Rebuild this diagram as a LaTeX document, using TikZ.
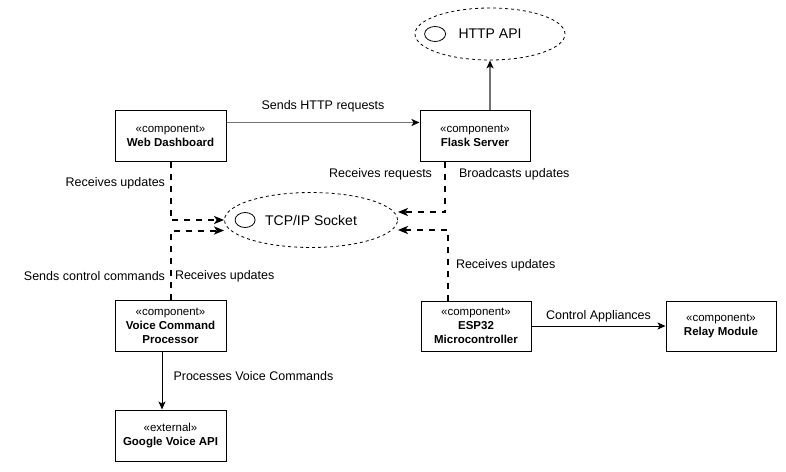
\documentclass[tikz,border=0pt]{standalone}
\usepackage{fontspec}
\setmainfont{Liberation Sans}
\usetikzlibrary{arrows.meta,shapes.geometric}

\tikzset{
  compbox/.style={draw, line width=1pt, minimum width=111, minimum height=51, inner sep=0, align=center, font=\fontsize{11.5}{14}\selectfont},
  iface/.style={draw, ellipse, dash pattern=on 3pt off 3pt, line width=0.8pt, inner sep=0, font=\fontsize{14}{16}\selectfont},
  lbl/.style={inner sep=0, text=black, font=\fontsize{12.5}{14}\selectfont},
  link/.style={line width=1pt, -{Stealth[length=8pt,width=7pt,inset=2pt,black]}},
  greylink/.style={link, black!55, line width=1.5pt},
  socklink/.style={line width=2pt, dash pattern=on 6pt off 6pt, -{Stealth[length=10pt,width=8pt,inset=2.5pt]}}
}

\begin{document}
\begin{tikzpicture}[x=1pt, y=-1pt]
			%%%%% START %%%%%
			\useasboundingbox (0,0) rectangle (786,471);
			
			\node[compbox] (web) at (170.5,135.5) {«component»\\\textbf{Web Dashboard}};
			\node[compbox, minimum width=110] (flask) at (475,135.5) {«component»\\\textbf{Flask Server}};
			\node[compbox] (voice) at (170.5,325.5) {«component»\\\textbf{Voice Command}\\\textbf{Processor}};
			\node[compbox] (google) at (170.5,435.5) {«external»\\\textbf{Google Voice API}};
			\node[compbox, minimum width=110, minimum height=50] (esp) at (476,326) {«component»\\\textbf{ESP32}\\\textbf{Microcontroller}};
			\node[compbox, minimum width=110, minimum height=50] (relay) at (721,326) {«component»\\\textbf{Relay Module}};
			
			\node[iface, minimum width=150, minimum height=52] (http) at (490,34) {HTTP API};
			\draw[line width=0.8pt] ([xshift=20.5]http.west) ellipse (10.5 and 7.5);
			
			\node[iface, minimum width=173, minimum height=55] (socket) at (311,220) {TCP/IP Socket};
			\draw[line width=0.8pt] ([xshift=21]socket.west) ellipse (10 and 7.5);
			
			\draw[greylink] ([yshift=13]web.east) -- ([yshift=13]flask.west) node[lbl, midway, above=10pt] {Sends HTTP requests};
			\draw[greylink] ([xshift=15]flask.north) -- (http.south);
			
			\draw[link] ([xshift=-8.5]voice.south) -- ([xshift=-8.5]google.north) node[lbl, midway, right=11pt, yshift=4.5pt] {Processes Voice Commands};
			\draw[link] (esp) -- (relay) node[lbl, midway, above=3pt] {Control Appliances};
			
			\draw[socklink] (web.south) |- (socket.west) node[lbl, pos=0.19, left=4.5pt] {Receives updates};
			\draw[socklink] (voice.north) |- ([yshift=-10.5]socket.west) node[lbl, pos=0.17, left=4.5pt] {Sends control commands} node[lbl, pos=0.17, right=3.5pt] {Receives updates};
			\draw[socklink] ([xshift=-30]flask.south) |- ([yshift=8]socket.east) node[lbl, pos=0.13, left=12pt] {Receives requests} node[lbl, pos=0.13, right=13pt] {Broadcasts updates};
			\draw[socklink] ([xshift=-28]esp.north) |- ([yshift=-10]socket.east) node[lbl, pos=0.25, right=7pt] {Receives updates};
			
			%%%%% END %%%%%
\end{tikzpicture}
\end{document}
